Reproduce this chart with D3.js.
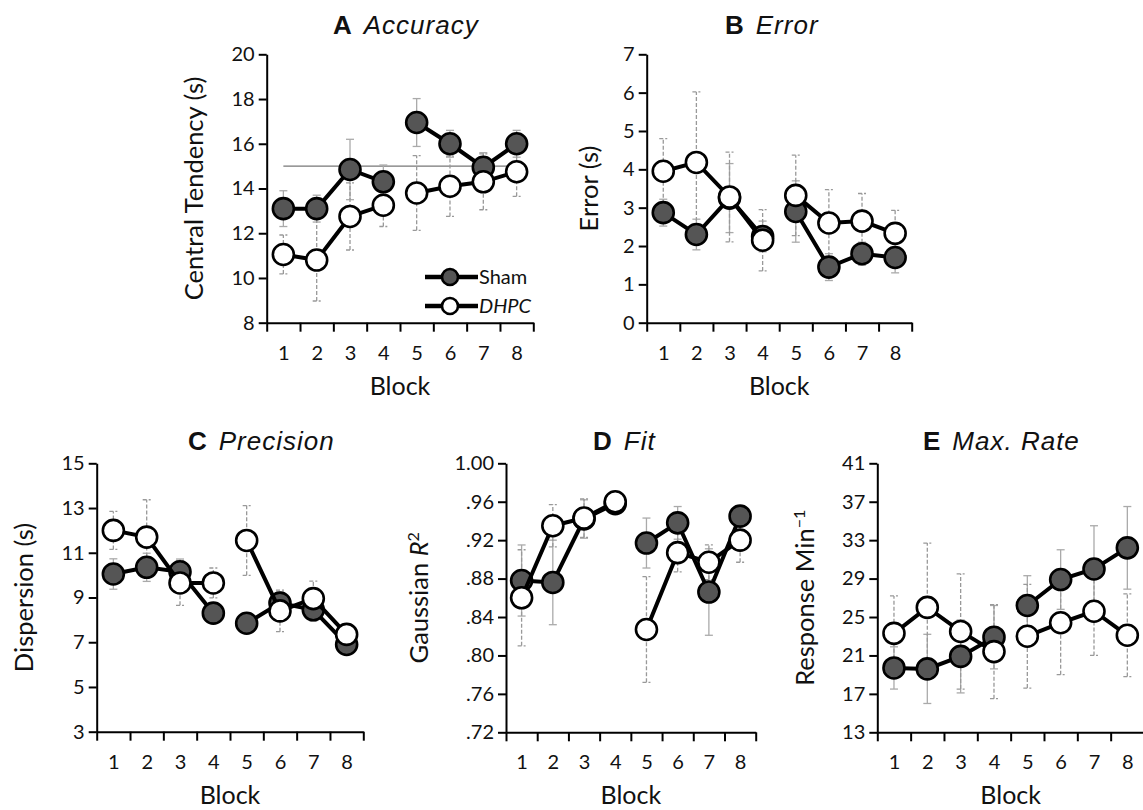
<!DOCTYPE html>
<html>
<head>
<meta charset="utf-8">
<script src="https://cdn.jsdelivr.net/npm/d3@7"></script>
<style>
  body { margin: 0; background: #fff; }
  svg { display: block; }
</style>
</head>
<body>
<div id="chart"></div>
<script>
// blocks on the x axis
var blocks = [1, 2, 3, 4, 5, 6, 7, 8];

// A - Accuracy (central tendency, s)
var shamAccuracy = [13.1, 13.1, 14.85, 14.3, 16.95, 16.0, 14.95, 16.0];
var shamAccuracyErr = [0.8, 0.6, 1.35, 0.75, 1.07, 0.6, 0.65, 0.6];
var dhpcAccuracy = [11.05, 10.8, 12.75, 13.25, 13.8, 14.1, 14.3, 14.75];
var dhpcAccuracyErr = [0.87, 1.83, 1.5, 0.95, 1.67, 1.35, 1.25, 1.1];
var accuracyTarget = 15;

// B - Error (s)
var shamError = [2.87, 2.3, 3.25, 2.25, 2.9, 1.45, 1.8, 1.7];
var shamErrorErr = [0.35, 0.4, 0.9, 0.4, 0.8, 0.35, 0.3, 0.4];
var dhpcError = [3.95, 4.18, 3.28, 2.15, 3.32, 2.6, 2.65, 2.33];
var dhpcErrorErr = [0.85, 1.84, 1.17, 0.8, 1.05, 0.87, 0.72, 0.6];

// C - Precision (dispersion, s)
var shamPrecision = [10.05, 10.35, 10.15, 8.3, 7.85, 8.75, 8.45, 6.9];
var shamPrecisionErr = [0.68, 0.63, 0.57, 0.4, 0.3, 0.5, 0.5, 0.3];
var dhpcPrecision = [12.0, 11.7, 9.65, 9.65, 11.55, 8.4, 8.95, 7.35];
var dhpcPrecisionErr = [0.85, 1.67, 1.0, 0.67, 1.56, 0.93, 0.78, 0.3];

// D - Fit (Gaussian R^2)
var shamFit = [0.878, 0.876, 0.942, 0.958, 0.917, 0.938, 0.866, 0.945];
var shamFitErr = [0.037, 0.044, 0.02, 0.01, 0.026, 0.017, 0.045, 0.01];
var dhpcFit = [0.86, 0.935, 0.943, 0.96, 0.827, 0.907, 0.897, 0.92];
var dhpcFitErr = [0.05, 0.022, 0.02, 0.005, 0.055, 0.02, 0.018, 0.023];

// E - Max. Rate (responses / min)
var shamRate = [19.7, 19.6, 20.9, 22.9, 26.2, 28.9, 30.0, 32.2];
var shamRateErr = [2.2, 3.6, 3.8, 3.3, 3.1, 3.1, 4.5, 4.3];
var dhpcRate = [23.3, 26.0, 23.5, 21.4, 23.0, 24.4, 25.6, 23.1];
var dhpcRateErr = [3.9, 6.7, 6.0, 4.9, 5.4, 5.4, 4.6, 4.3];

// y tick labels
var accuracyTicks = [8, 10, 12, 14, 16, 18, 20];
var errorTicks = [0, 1, 2, 3, 4, 5, 6, 7];
var precisionTicks = [3, 5, 7, 9, 11, 13, 15];
var fitTicks = [0.72, 0.76, 0.80, 0.84, 0.88, 0.92, 0.96, 1.00];
var rateTicks = [13, 17, 21, 25, 29, 33, 37, 41];

var legendLabels = ["Sham", "DHPC"];

var width = 1143, height = 810;
var tickFont = "Lato, 'Open Sans', sans-serif";
var titleFont = "'Liberation Sans', Arial, sans-serif";
var shamFill = "#555";

var svg = d3.select("#chart")
    .append("svg")
        .attr("width", width)
        .attr("height", height);

var fitFormat = function(d) {
    var s = d3.format(".2f")(d);
    return d < 1 ? s.replace(/^0/, "") : s;
};

var drawPanel = function(p) {
    var g = svg.append("g");

    var x = d3.scaleLinear().domain([0.5, 8.5]).range([p.left, p.right]);
    var y = d3.scaleLinear().domain(d3.extent(p.ticks)).range([p.bottom, p.top]);

    // x axis: boundary ticks, then labels at block centres
    var xAxis = g.append("g")
        .attr("transform", "translate(0," + p.bottom + ")")
        .call(d3.axisBottom(x)
            .tickValues(d3.range(0.5, 9, 1))
            .tickFormat("")
            .tickSize(9)
            .tickSizeOuter(0));
    xAxis.select(".domain").attr("stroke-width", 2);
    xAxis.selectAll(".tick line").attr("stroke-width", 2);

    g.append("g")
        .attr("transform", "translate(0," + p.bottom + ")")
        .call(d3.axisBottom(x).tickValues(blocks).tickSize(0).tickPadding(23))
        .call(s => s.select(".domain").remove())
        .selectAll("text")
            .attr("font-family", tickFont)
            .attr("font-size", 20)
            .attr("fill", "#111");

    var yAxis = g.append("g")
        .attr("transform", "translate(" + p.left + ",0)")
        .call(d3.axisLeft(y)
            .tickValues(p.ticks)
            .tickFormat(p.format || d3.format("d"))
            .tickSize(8)
            .tickSizeOuter(0)
            .tickPadding(4));
    yAxis.select(".domain").attr("stroke-width", 2);
    yAxis.selectAll(".tick line").attr("stroke-width", 2);
    yAxis.selectAll("text")
        .attr("font-family", tickFont)
        .attr("font-size", 20)
        .attr("fill", "#111");

    // axis titles
    g.append("text")
        .attr("x", (p.left + p.right) / 2)
        .attr("y", p.bottom + 72)
        .attr("text-anchor", "middle")
        .attr("font-family", tickFont)
        .attr("font-size", 25)
        .attr("fill", "#111")
        .text("Block");

    var yl = g.append("text")
        .attr("transform", "translate(" + (p.left - p.labelOffset) + "," + ((p.top + p.bottom) / 2) + ") rotate(-90)")
        .attr("text-anchor", "middle")
        .attr("dy", "0.35em")
        .attr("font-family", tickFont)
        .attr("font-size", 25.5)
        .attr("fill", "#111");
    p.yLabel(yl);

    // panel title
    var t = g.append("text")
        .attr("x", p.titleX)
        .attr("y", p.titleY)
        .attr("font-family", titleFont)
        .attr("font-size", 26)
        .attr("letter-spacing", 1)
        .attr("fill", "#111");
    t.append("tspan").attr("font-weight", "bold").text(p.letter);
    t.append("tspan").attr("dx", 11).attr("font-style", "italic").text(p.title);

    if (p.target != null) {
        g.append("line")
            .attr("x1", x(1)).attr("x2", x(8))
            .attr("y1", y(p.target)).attr("y2", y(p.target))
            .attr("stroke", "#777")
            .attr("stroke-width", 1.2);
    }

    var series = [
        {values: p.sham, err: p.shamErr, fill: shamFill, barColor: "#aaa", dash: null},
        {values: p.dhpc, err: p.dhpcErr, fill: "#fff", barColor: "#999", dash: "4,2"}
    ];

    // error bars first so both groups sit on top of them
    series.forEach(function(s) {
        var bars = g.append("g")
            .attr("stroke", s.barColor)
            .attr("stroke-width", 1.3)
            .attr("stroke-dasharray", s.dash);
        blocks.forEach(function(b, i) {
            var lo = y(s.values[i] - s.err[i]), hi = y(s.values[i] + s.err[i]);
            bars.append("line").attr("x1", x(b)).attr("x2", x(b)).attr("y1", lo).attr("y2", hi);
            bars.append("line").attr("x1", x(b) - 4).attr("x2", x(b) + 4).attr("y1", lo).attr("y2", lo)
                .attr("stroke-dasharray", null);
            bars.append("line").attr("x1", x(b) - 4).attr("x2", x(b) + 4).attr("y1", hi).attr("y2", hi)
                .attr("stroke-dasharray", null);
        });
    });

    var line = d3.line()
        .x(function(d) { return x(d.b); })
        .y(function(d) { return y(d.v); });

    series.forEach(function(s) {
        var pts = blocks.map(function(b, i) { return {b: b, v: s.values[i]}; });
        [pts.slice(0, 4), pts.slice(4)].forEach(function(seg) {
            g.append("path")
                .datum(seg)
                .attr("d", line)
                .attr("fill", "none")
                .attr("stroke", "#000")
                .attr("stroke-width", 4);
        });
        g.selectAll(null)
            .data(pts)
            .enter()
            .append("circle")
            .attr("cx", function(d) { return x(d.b); })
            .attr("cy", function(d) { return y(d.v); })
            .attr("r", 10.5)
            .attr("fill", s.fill)
            .attr("stroke", "#000")
            .attr("stroke-width", 2.6);
    });

    return g;
};

var gA = drawPanel({
    left: 266.7, right: 533.3, top: 54.3, bottom: 322.7,
    ticks: accuracyTicks, letter: "A", title: "Accuracy", titleX: 333, titleY: 34,
    labelOffset: 73,
    yLabel: function(t) { t.text("Central Tendency (s)"); },
    sham: shamAccuracy, shamErr: shamAccuracyErr,
    dhpc: dhpcAccuracy, dhpcErr: dhpcAccuracyErr,
    target: accuracyTarget
});

drawPanel({
    left: 646.7, right: 911.7, top: 54.3, bottom: 322.7,
    ticks: errorTicks, letter: "B", title: "Error", titleX: 725, titleY: 34,
    labelOffset: 58,
    yLabel: function(t) { t.text("Error (s)"); },
    sham: shamError, shamErr: shamErrorErr,
    dhpc: dhpcError, dhpcErr: dhpcErrorErr
});

drawPanel({
    left: 96.7, right: 363.3, top: 463.3, bottom: 731.7,
    ticks: precisionTicks, letter: "C", title: "Precision", titleX: 188, titleY: 450,
    labelOffset: 73,
    yLabel: function(t) { t.text("Dispersion (s)"); },
    sham: shamPrecision, shamErr: shamPrecisionErr,
    dhpc: dhpcPrecision, dhpcErr: dhpcPrecisionErr
});

drawPanel({
    left: 506, right: 755.7, top: 463.3, bottom: 732.3,
    ticks: fitTicks, format: fitFormat, letter: "D", title: "Fit", titleX: 593, titleY: 450,
    labelOffset: 87,
    yLabel: function(t) {
        t.append("tspan").text("Gaussian ");
        t.append("tspan").attr("font-style", "italic").text("R");
        t.append("tspan").attr("font-size", 16).attr("baseline-shift", "super").text("2");
    },
    sham: shamFit, shamErr: shamFitErr,
    dhpc: dhpcFit, dhpcErr: dhpcFitErr
});

drawPanel({
    left: 877.3, right: 1144, top: 463.3, bottom: 732.3,
    ticks: rateTicks, letter: "E", title: "Max. Rate", titleX: 923, titleY: 450,
    labelOffset: 72,
    yLabel: function(t) {
        t.append("tspan").text("Response Min");
        t.append("tspan").attr("font-size", 16).attr("baseline-shift", "super").text("\u22121");
    },
    sham: shamRate, shamErr: shamRateErr,
    dhpc: dhpcRate, dhpcErr: dhpcRateErr
});

// legend inside panel A
var legend = gA.append("g");
legendLabels.forEach(function(name, i) {
    var ly = 277 + i * 29;
    legend.append("line")
        .attr("x1", 425).attr("x2", 478)
        .attr("y1", ly).attr("y2", ly)
        .attr("stroke", "#000")
        .attr("stroke-width", 4.5);
    legend.append("circle")
        .attr("cx", 450).attr("cy", ly)
        .attr("r", 8)
        .attr("fill", i === 0 ? shamFill : "#fff")
        .attr("stroke", "#000")
        .attr("stroke-width", 2.6);
    legend.append("text")
        .attr("x", 479).attr("y", ly)
        .attr("dy", "0.36em")
        .attr("font-family", tickFont)
        .attr("font-size", 20)
        .attr("font-style", i === 1 ? "italic" : null)
        .attr("fill", "#111")
        .text(name);
});
</script>
</body>
</html>
